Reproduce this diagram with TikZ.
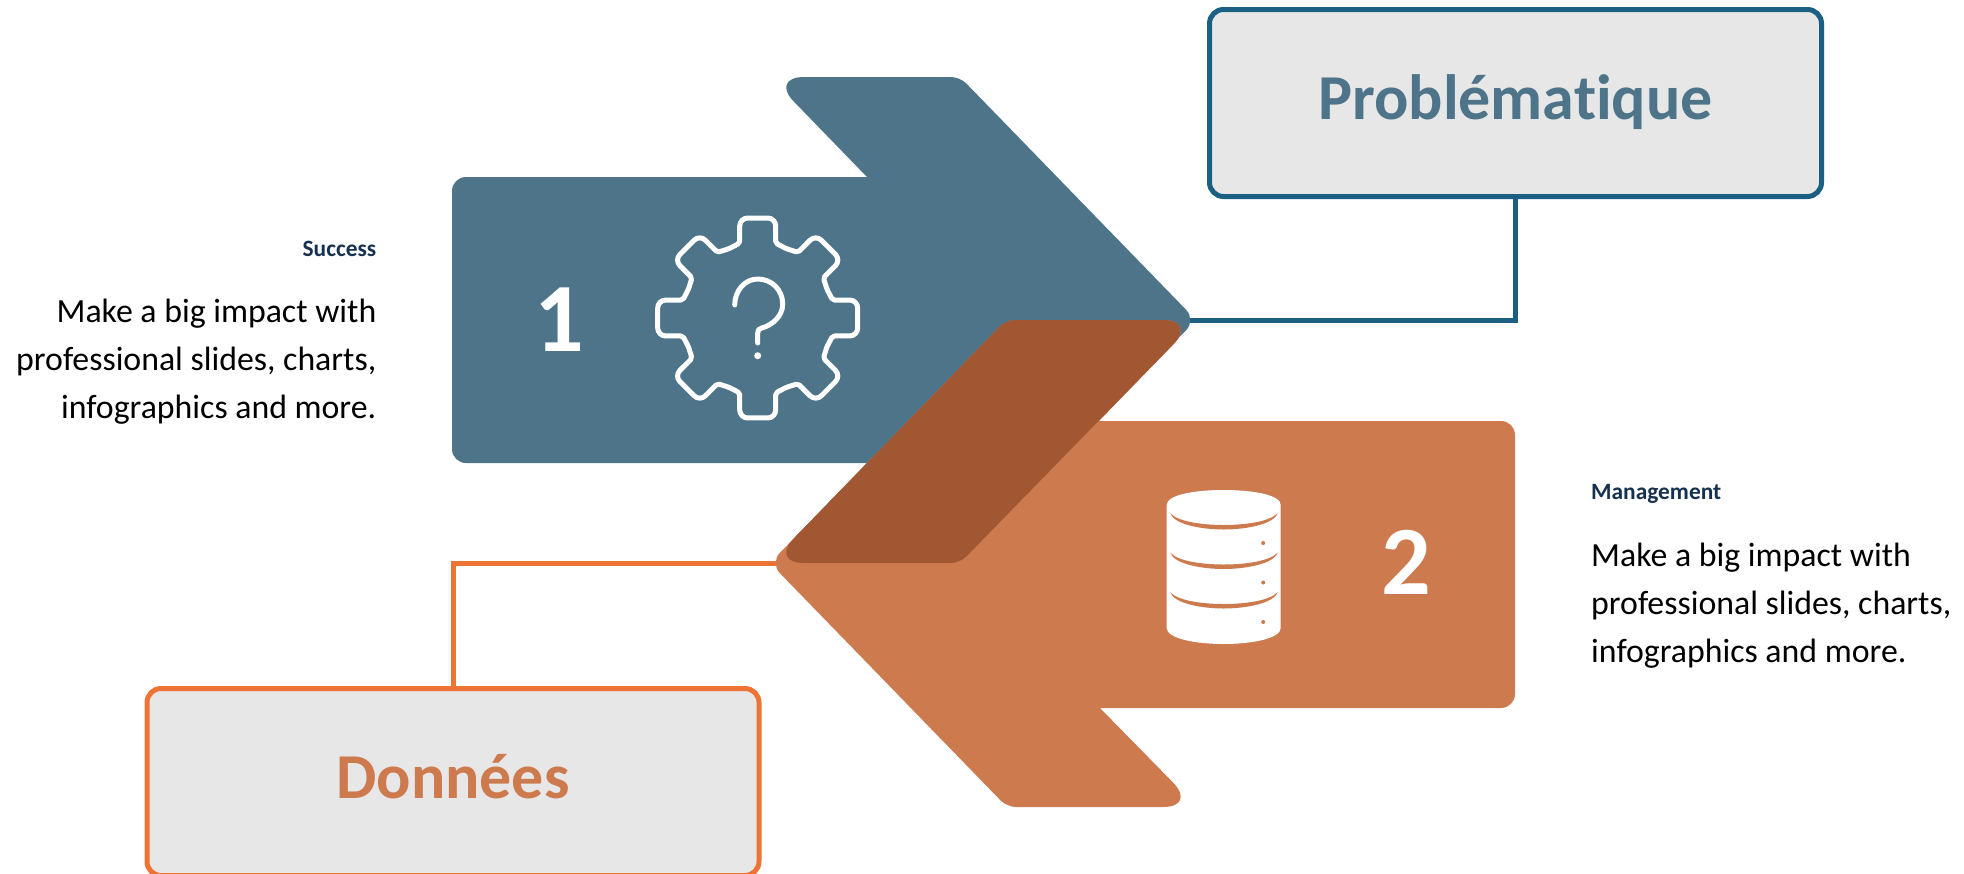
\documentclass[tikz,border=0pt]{standalone}
\usepackage{fontspec}
\setmainfont{Carlito}[Ligatures=NoCommon]

\definecolor{arrowblue}{HTML}{4E7489}
\definecolor{arroworange}{HTML}{CE7A4F}
\definecolor{overlapbrown}{HTML}{A25733}
\definecolor{edgeblue}{HTML}{1B6082}
\definecolor{edgeorange}{HTML}{ED7435}
\definecolor{boxgrey}{HTML}{E7E7E7}
\definecolor{titlenavy}{HTML}{16304F}

\tikzset{
  titlebox/.style={draw, fill=boxgrey, line width=5pt, rounded corners=14pt,
    minimum width=612pt, minimum height=187pt, inner sep=0pt,
    text height=42pt, text depth=9pt, font=\bfseries\fontsize{64}{64}\selectfont},
  link/.style={line width=5pt},
  numeral/.style={text=white, inner sep=0pt, anchor=base, font=\bfseries\fontsize{98}{98}\selectfont},
  sidehead/.style={text=titlenavy, inner sep=0pt, font=\bfseries\fontsize{23.4}{23.4}\selectfont},
  sidetext/.style={text=black, inner sep=0pt, font=\fontsize{33.8}{48}\selectfont},
  iconline/.style={draw=white, line width=5pt, line cap=round, line join=round},
}

\begin{document}
\begin{tikzpicture}[x=1pt, y=-1pt]
  \useasboundingbox (0,0) rectangle (1964,873);
  % Sizes
  \pgfmathsetmacro{\soft}{14}
  \pgfmathsetmacro{\mild}{9}
  \pgfmathsetmacro{\sharp}{34}
  \pgfmathsetmacro{\bandgap}{39.5}

  % tips and centres
  \coordinate (tipone) at (1190,320.5);
  \coordinate (tiptwo) at (777,563);
  \coordinate (gear) at (757.7,318);
  \coordinate (drum) at (1223.7,490);

  % boxes
  \node[titlebox, draw=edgeblue, text=arrowblue] (problem) at (1515.5,103) {Problématique};
  \node[titlebox, draw=edgeorange, text=arroworange] (data) at (453,782) {Données};

  % connectors
  \draw[link, edgeblue] (tipone) -| (problem.south);
  \draw[link, edgeorange] (tiptwo) -| (data.north);

  % arrows
  \fill[arrowblue] (452,320) [rounded corners=\soft pt] -- (452,177) [sharp corners] -- (867,177)
    [rounded corners=\sharp pt] -- (770,77) [rounded corners=\mild pt] -- (960,77)
    [rounded corners=\soft pt] -- (1196,320) [rounded corners=\mild pt] -- (960,563)
    [rounded corners=\sharp pt] -- (770,563)
    [sharp corners] -- (867,463) [rounded corners=\soft pt] -- (452,463) -- cycle;
  \fill[arroworange] (1515,565) [rounded corners=\soft pt] -- (1515,708) [sharp corners] -- (1100,708)
    [rounded corners=\sharp pt] -- (1197,807) [rounded corners=\mild pt] -- (1007,807)
    [rounded corners=\soft pt] -- (770,563) [rounded corners=\mild pt] -- (1006,320)
    [rounded corners=\sharp pt] -- (1197,320)
    [sharp corners] -- (1099,421) [rounded corners=\soft pt] -- (1515,421) -- cycle;
  \fill[overlapbrown] (1100,320) [rounded corners=\mild pt] -- (1006,320) [rounded corners=\sharp pt] -- (770,563)
    [rounded corners=\mild pt] -- (960,563) [rounded corners=\sharp pt] -- (1197,320) -- cycle;

  % numbers
  \node[numeral] (one) at (559.5,351) {1};
  \node[numeral] (two) at (1406,594) {2};

  % gear icon
  \begin{scope}[shift={(gear)}]
    \draw[iconline] (22.5:75)
      \foreach \a in {45,90,...,360} {
        [rounded corners=2pt] -- (\a-13.5:77) [rounded corners=8pt] -- (\a-10.2:101.6) -- (\a+10.2:101.6)
        [rounded corners=2pt] -- (\a+13.5:77) -- (\a+22.5:75)
      };
    \draw[iconline] (-23,-13) .. controls (-23,-27) and (-13,-39) .. (0,-39)
      .. controls (14,-39) and (25,-28) .. (25,-14)
      .. controls (25,-2) and (15,7) .. (4,10)
      .. controls (1,11) and (0,12) .. (0,15) -- (0,25);
    \fill[white] (0,37.7) circle (3.5);
  \end{scope}

  % database icon
  \begin{scope}[shift={(drum)}]
    \fill[white] (-57,15) .. controls (-57,5) and (-30,0) .. (0,0)
      .. controls (30,0) and (57,5) .. (57,15) -- (57,138)
      .. controls (57,148) and (30,154) .. (0,154)
      .. controls (-30,154) and (-57,148) .. (-57,138) -- cycle;
    \foreach \k in {0,1,2} {
      \begin{scope}[yshift={-\k*\bandgap pt}]
        \fill[arroworange] (-53.5,23) .. controls (-46,32) and (-20,35) .. (0,35)
          .. controls (20,35) and (46,32) .. (54,23)
          .. controls (50,35) and (20,39.5) .. (0,39.5)
          .. controls (-20,39.5) and (-50,35) .. cycle;
        \fill[arroworange] (39.5,53) circle (2);
      \end{scope}
    }
  \end{scope}

  % labels
  \node[sidehead, anchor=base east] (successhead) at (376.5,256) {Success};
  \node[sidetext, anchor=base east, align=right] (successtext) at (376.5,418.5)
    {Make a big impact with\\professional slides, charts,\\infographics and more.};
  \node[sidehead, anchor=base west] (managementhead) at (1591,499) {Management};
  \node[sidetext, anchor=base west, align=left] (managementtext) at (1591,662.5)
    {Make a big impact with\\professional slides, charts,\\infographics and more.};
\end{tikzpicture}
\end{document}
